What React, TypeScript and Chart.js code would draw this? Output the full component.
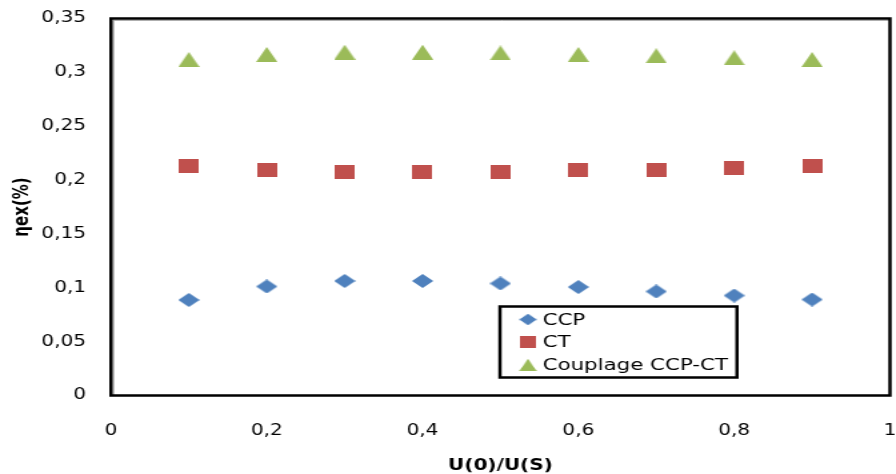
import { useEffect, useRef } from 'react';
import { Chart, registerables } from 'chart.js';

Chart.register(...registerables);

// U(0)/U(S) ratios on the horizontal axis
const RATIOS = [0.1, 0.2, 0.3, 0.4, 0.5, 0.6, 0.7, 0.8, 0.9];

// Exergy efficiency for each configuration
const CCP_VALUES = [0.0887, 0.1012, 0.1063, 0.1063, 0.104, 0.1007, 0.0966, 0.0928, 0.0891];
const CT_VALUES = [0.2131, 0.2089, 0.2075, 0.2075, 0.2075, 0.2089, 0.2098, 0.2112, 0.2131];
const COUPLAGE_VALUES = [0.3119, 0.3166, 0.3187, 0.3187, 0.318, 0.3166, 0.3154, 0.3135, 0.3119];

const SERIES_LABELS = ['CCP', 'CT', 'Couplage CCP-CT'];
const SERIES_COLORS = ['#4F81BD', '#C0504D', '#9BBB59'];

const X_TICK_LABELS = ['0', '0,2', '0,4', '0,6', '0,8', '1'];
const Y_TICK_LABELS = ['0', '0,05', '0,1', '0,15', '0,2', '0,25', '0,3', '0,35'];

const X_TITLE = 'U(0)/U(S)';
const Y_TITLE = 'ηex(%)';

// The bitmap is drawn narrower and widened by CSS to the display width.
const BITMAP_W = 672;
const DISPLAY_W = 896;
const H = 474;

const TICK_FONT = { family: 'DejaVu Sans', size: 15 };
const TITLE_FONT = { family: 'DejaVu Sans', size: 15, weight: 'bold' as const };

type Shape = 'diamond' | 'square' | 'triangle';

function makeMarker(shape: Shape, color: string): HTMLCanvasElement {
  const dims: Record<Shape, [number, number]> = {
    diamond: [16, 14],
    square: [15, 14],
    triangle: [16, 15],
  };
  const [w, h] = dims[shape];
  const c = document.createElement('canvas');
  c.width = w;
  c.height = h;
  const g = c.getContext('2d')!;
  g.fillStyle = color;
  g.beginPath();
  if (shape === 'diamond') {
    g.moveTo(w / 2, 0);
    g.lineTo(w, h / 2);
    g.lineTo(w / 2, h);
    g.lineTo(0, h / 2);
  } else if (shape === 'square') {
    g.rect(0, 0, w, h);
  } else {
    g.moveTo(w / 2, 0);
    g.lineTo(w, h);
    g.lineTo(0, h);
  }
  g.closePath();
  g.fill();
  return c;
}

// Black frame around the plotting area, with a thin grey inner edge
const framePlugin = {
  id: 'plotFrame',
  beforeDatasetsDraw(chart: Chart) {
    const { ctx, chartArea } = chart;
    const { left, top, right, bottom } = chartArea;
    ctx.save();
    ctx.strokeStyle = '#9a9a9a';
    ctx.lineWidth = 1;
    ctx.beginPath();
    ctx.moveTo(left + 1.8, bottom);
    ctx.lineTo(left + 1.8, top + 1.8);
    ctx.lineTo(right, top + 1.8);
    ctx.stroke();
    ctx.strokeStyle = '#000';
    ctx.lineWidth = 2.5;
    ctx.strokeRect(left, top, right - left, bottom - top);
    ctx.restore();
  },
};

// Boxed legend sitting inside the plot
const boxLegendPlugin = {
  id: 'boxLegend',
  afterDraw(chart: Chart) {
    const { ctx } = chart;
    const left = 375;
    const top = 306.5;
    const width = 177.75;
    const height = 71;
    const rowYs = [319.5, 342, 365];
    ctx.save();
    ctx.fillStyle = '#fff';
    ctx.fillRect(left, top, width, height);
    ctx.strokeStyle = '#000';
    ctx.lineWidth = 2.5;
    ctx.strokeRect(left, top, width, height);
    ctx.font = '16px "DejaVu Sans"';
    ctx.textBaseline = 'middle';
    ctx.textAlign = 'left';
    ctx.fillStyle = '#000';
    chart.data.datasets.forEach((ds: any, i: number) => {
      const img = ds.pointStyle as HTMLCanvasElement;
      const s = 0.82;
      const w = img.width * s;
      const h = img.height * s;
      const cy = rowYs[i];
      ctx.drawImage(img, 396 - w / 2, cy - h / 2, w, h);
      ctx.fillText(ds.label, 407, cy + 1);
    });
    ctx.restore();
  },
};

export default function App() {
  const canvasRef = useRef<HTMLCanvasElement>(null);

  useEffect(() => {
    if (!canvasRef.current) return;
    const shapes: Shape[] = ['diamond', 'square', 'triangle'];
    const seriesValues = [CCP_VALUES, CT_VALUES, COUPLAGE_VALUES];

    const datasets = seriesValues.map((vals, i) => ({
      label: SERIES_LABELS[i],
      data: RATIOS.map((x, j) => ({ x, y: vals[j] })),
      showLine: false,
      pointStyle: makeMarker(shapes[i], SERIES_COLORS[i]),
      backgroundColor: SERIES_COLORS[i],
      borderColor: SERIES_COLORS[i],
      pointRadius: 8,
    }));

    const chart = new Chart(canvasRef.current, {
      type: 'scatter',
      data: { datasets },
      options: {
        animation: false,
        responsive: false,
        devicePixelRatio: 1,
        layout: { autoPadding: false, padding: { top: 18.5, right: 4.5, left: 0, bottom: 0 } },
        plugins: {
          legend: { display: false },
          tooltip: { enabled: false },
        },
        scales: {
          x: {
            type: 'linear',
            min: 0,
            max: 1,
            grid: { display: false, drawTicks: false },
            border: { display: false },
            ticks: {
              stepSize: 0.2,
              padding: 26.5,
              color: '#000',
              font: TICK_FONT,
              callback: (_v: any, i: number) => X_TICK_LABELS[i],
            },
            title: {
              display: true,
              text: X_TITLE,
              color: '#000',
              font: { ...TITLE_FONT, lineHeight: 1 },
              padding: { top: 0, bottom: 0 },
            },
            afterFit: (scale: any) => {
              scale.height = 78.5;
              scale.paddingLeft = 0;
              scale.paddingRight = 0;
            },
          },
          y: {
            type: 'linear',
            min: 0,
            max: 0.35,
            grid: { display: false, drawTicks: false },
            border: { display: false },
            ticks: {
              stepSize: 0.05,
              padding: 18.75,
              color: '#000',
              font: TICK_FONT,
              callback: (_v: any, i: number) => Y_TICK_LABELS[i],
            },
            title: {
              display: true,
              text: Y_TITLE,
              color: '#000',
              font: TITLE_FONT,
              padding: { top: 8, bottom: 0 },
            },
            afterFit: (scale: any) => {
              scale.width = 83.25;
              scale.paddingTop = 0;
              scale.paddingBottom = 0;
            },
          },
        },
      },
      plugins: [framePlugin, boxLegendPlugin],
    });

    return () => chart.destroy();
  }, []);

  return (
    <div style={{ position: 'fixed', left: 0, top: 0, width: DISPLAY_W, height: H, background: '#fff' }}>
      <canvas
        ref={canvasRef}
        width={BITMAP_W}
        height={H}
        style={{ width: DISPLAY_W, height: H, display: 'block' }}
      />
    </div>
  );
}
